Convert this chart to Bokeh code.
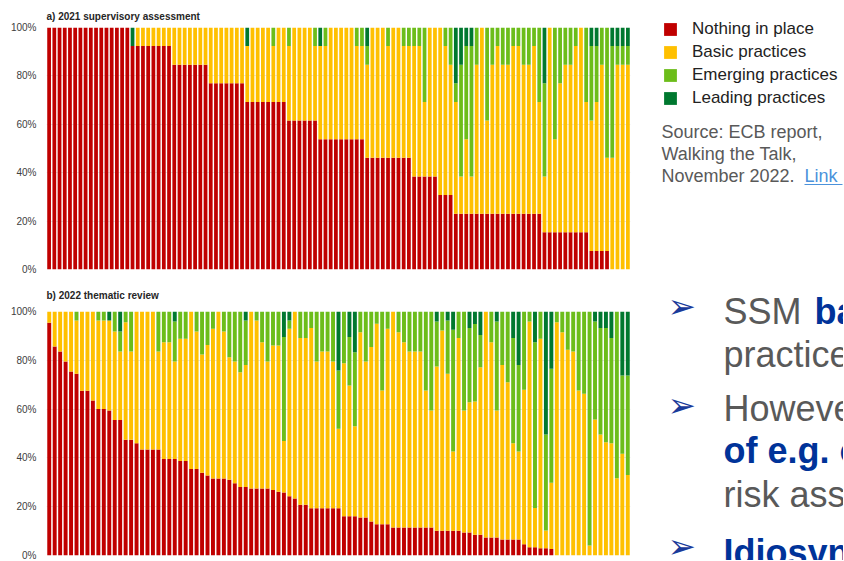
from bokeh.plotting import figure
from bokeh.layouts import row, column
from bokeh.models import Range1d, FixedTicker, Legend, LegendItem, ColumnDataSource
from bokeh.embed import file_html
from bokeh.resources import INLINE
from bokeh.core.properties import value

FONT = "Liberation Sans"

categories = ["Nothing in place", "Basic practices", "Emerging practices", "Leading practices"]
colors = ["#C00000", "#FFC000", "#6CBD1A", "#00782F"]
y_ticks = [0, 20, 40, 60, 80, 100]
y_tick_labels = ["0%", "20%", "40%", "60%", "80%", "100%"]

# a) 2021 supervisory assessment: number of the 13 expectations per bank in each category
expectations_2021 = 13
a_nothing = [
    13, 13, 13, 13, 13, 13, 13, 13, 13, 13,
    13, 13, 13, 13, 13, 13, 12, 12, 12, 12,
    12, 12, 12, 12, 11, 11, 11, 11, 11, 11,
    11, 10, 10, 10, 10, 10, 10, 10, 9, 9,
    9, 9, 9, 9, 9, 9, 8, 8, 8, 8,
    8, 8, 7, 7, 7, 7, 7, 7, 7, 7,
    7, 6, 6, 6, 6, 6, 6, 6, 6, 6,
    5, 5, 5, 5, 5, 4, 4, 4, 3, 3,
    3, 3, 3, 3, 3, 3, 3, 3, 3, 3,
    3, 3, 3, 3, 3, 2, 2, 2, 2, 2,
    2, 2, 2, 2, 1, 1, 1, 1, 0, 0,
    0, 0]
a_basic = [
    0, 0, 0, 0, 0, 0, 0, 0, 0, 0,
    0, 0, 0, 0, 0, 0, 0, 1, 1, 1,
    1, 1, 1, 1, 2, 2, 2, 2, 2, 2,
    2, 3, 3, 3, 3, 3, 3, 3, 3, 4,
    4, 4, 4, 3, 4, 4, 4, 5, 5, 5,
    5, 4, 5, 5, 6, 6, 6, 6, 6, 5,
    5, 5, 7, 7, 7, 6, 7, 7, 6, 6,
    7, 7, 4, 8, 8, 9, 8, 7, 6, 2,
    4, 2, 8, 10, 5, 8, 9, 8, 8, 9,
    9, 8, 8, 9, 6, 3, 11, 5, 8, 9,
    9, 10, 11, 7, 7, 8, 10, 5, 6, 11,
    11, 11]
a_emerging = [
    0, 0, 0, 0, 0, 0, 0, 0, 0, 0,
    0, 0, 0, 0, 0, 0, 0, 0, 0, 0,
    0, 0, 0, 0, 0, 0, 0, 0, 0, 0,
    0, 0, 0, 0, 0, 0, 0, 0, 0, 0,
    0, 0, 0, 1, 0, 0, 1, 0, 0, 0,
    0, 1, 0, 1, 0, 0, 0, 0, 0, 1,
    1, 1, 0, 0, 0, 1, 0, 0, 1, 1,
    1, 1, 4, 0, 0, 0, 1, 2, 1, 6,
    5, 7, 2, 0, 5, 2, 1, 2, 2, 1,
    1, 2, 2, 1, 4, 5, 0, 6, 3, 2,
    2, 1, 0, 4, 4, 3, 2, 7, 6, 1,
    1, 1]
a_leading = [
    0, 0, 0, 0, 0, 0, 0, 0, 0, 0,
    0, 0, 0, 0, 0, 0, 1, 0, 0, 0,
    0, 0, 0, 0, 0, 0, 0, 0, 0, 0,
    0, 0, 0, 0, 0, 0, 0, 0, 1, 0,
    0, 0, 0, 0, 0, 0, 0, 0, 0, 0,
    0, 0, 1, 0, 0, 0, 0, 0, 0, 0,
    0, 1, 0, 0, 0, 0, 0, 0, 0, 0,
    0, 0, 0, 0, 0, 0, 0, 0, 3, 2,
    1, 1, 0, 0, 0, 0, 0, 0, 0, 0,
    0, 0, 0, 0, 0, 3, 0, 0, 0, 0,
    0, 0, 0, 0, 1, 1, 0, 0, 1, 1,
    1, 1]

# b) 2022 thematic review: share (%) of assessed elements per bank in each category
b_nothing = [
    95.4, 85.7, 83.6, 79.5, 75.4, 74.5, 67.5, 67.5, 63.5, 60.0,
    60.0, 59.4, 55.5, 55.5, 47.4, 47.4, 46.0, 43.4, 43.4, 43.4,
    43.4, 39.5, 39.5, 39.5, 38.7, 38.7, 35.5, 35.5, 33.9, 32.8,
    31.6, 31.6, 31.6, 31.0, 29.6, 28.1, 28.1, 27.5, 27.5, 27.5,
    27.5, 26.8, 26.1, 25.8, 24.3, 23.4, 20.8, 20.8, 19.4, 19.4,
    19.4, 19.4, 19.4, 19.4, 16.1, 16.1, 16.1, 15.6, 15.6, 13.9,
    12.8, 12.8, 12.8, 11.5, 11.5, 11.5, 11.5, 11.5, 11.5, 11.5,
    11.5, 10.1, 10.1, 10.1, 10.1, 10.1, 9.4, 9.4, 8.5, 8.5,
    7.4, 7.4, 7.4, 6.6, 6.6, 6.6, 6.6, 4.6, 3.4, 3.4,
    3.0, 3.0, 2.7, 0, 0, 0, 0, 0, 0, 0,
    0, 0, 0, 0, 0, 0, 0]
b_basic = [
    4.6, 14.3, 16.4, 20.5, 24.6, 21.8, 32.5, 32.5, 36.5, 36.3,
    36.3, 36.9, 36.3, 28.1, 48.2, 36.2, 54.0, 56.6, 56.6, 56.6,
    40.2, 47.9, 47.9, 40.0, 50.1, 50.1, 64.5, 56.3, 48.5, 53.5,
    61.3, 68.4, 60.2, 50.3, 49.9, 47.0, 50.0, 72.5, 68.8, 59.9,
    52.0, 59.3, 60.0, 21.1, 68.6, 76.6, 68.3, 68.3, 73.8, 60.1,
    64.2, 64.2, 60.1, 32.5, 62.7, 53.6, 36.9, 75.9, 63.9, 71.5,
    82.2, 54.8, 80.1, 88.5, 80.0, 75.9, 72.1, 72.1, 72.1, 56.1,
    47.9, 67.4, 82.1, 64.4, 32.5, 79.0, 50.0, 53.4, 54.6, 68.7,
    92.6, 80.0, 52.0, 71.5, 64.4, 39.4, 36.0, 63.3, 92.5, 16.1,
    85.8, 7.2, 27.1, 95.6, 91.5, 84.3, 83.6, 67.6, 66.3, 4.1,
    55.7, 49.6, 46.4, 46.0, 31.7, 41.7, 33.0]
b_emerging = [
    0, 0, 0, 0, 0, 3.7, 0, 0, 0, 3.7,
    3.7, 0, 8.2, 8.2, 4.4, 16.4, 0, 0, 0, 0,
    16.4, 12.6, 12.6, 16.4, 11.2, 11.2, 0, 8.2, 17.6, 13.7,
    7.1, 0, 8.2, 18.7, 20.5, 24.9, 18.2, 0, 3.7, 12.6,
    20.5, 13.9, 13.9, 42.6, 3.4, 0, 10.9, 10.9, 6.8, 20.5,
    16.4, 16.4, 20.5, 23.9, 21.2, 19.8, 30.3, 8.5, 20.5, 14.6,
    5.0, 32.4, 7.1, 0, 8.5, 12.6, 16.4, 16.4, 16.4, 32.4,
    40.6, 18.4, 7.8, 21.8, 49.9, 10.9, 40.6, 30.4, 31.8, 13.2,
    0, 12.6, 36.5, 21.9, 29.0, 43.1, 35.5, 32.1, 4.1, 67.9,
    11.2, 39.4, 46.7, 4.4, 8.5, 15.7, 16.4, 32.4, 33.7, 95.9,
    40.2, 43.6, 46.8, 43.1, 68.3, 32.1, 40.8]
b_leading = [
    0, 0, 0, 0, 0, 0, 0, 0, 0, 0,
    0, 3.7, 0, 8.2, 0, 0, 0, 0, 0, 0,
    0, 0, 0, 4.1, 0, 0, 0, 0, 0, 0,
    0, 0, 0, 0, 0, 0, 3.7, 0, 0, 0,
    0, 0, 0, 10.5, 3.7, 0, 0, 0, 0, 0,
    0, 0, 0, 24.2, 0, 10.5, 16.7, 0, 0, 0,
    0, 0, 0, 0, 0, 0, 0, 0, 0, 0,
    0, 4.1, 0, 3.7, 7.5, 0, 0, 6.8, 5.1, 9.6,
    0, 0, 4.1, 0, 0, 10.9, 21.9, 0, 0, 12.6,
    0, 50.4, 23.5, 0, 0, 0, 0, 0, 0, 0,
    4.1, 6.8, 6.8, 10.9, 0, 26.2, 26.2]

source_lines = ["Source: ECB report,", "Walking the Talk,", "November 2022."]
link_text = "Link"

W_LEFT, W_RIGHT = 640, 203
H_TOP, H_BOTTOM = 275, 285


def make_chart(title, nothing, basic, emerging, leading, height, top, bottom, standoff):
    n = len(nothing)
    src = ColumnDataSource(dict(x=list(range(n)), nothing=nothing, basic=basic,
                                emerging=emerging, leading=leading))
    p = figure(width=W_LEFT, height=height, x_range=Range1d(-0.5, n - 0.5), y_range=Range1d(0, 100),
               x_axis_location=None, output_backend="svg", toolbar_location=None,
               min_border_left=46, min_border_right=10, min_border_top=top, min_border_bottom=bottom,
               frame_align=False)
    p.vbar_stack(["nothing", "basic", "emerging", "leading"], x="x", width=0.72,
                 fill_color=colors, line_color=None, source=src)
    p.yaxis.ticker = FixedTicker(ticks=y_ticks)
    p.yaxis.major_label_overrides = {t: l for t, l in zip(y_ticks, y_tick_labels)}
    p.yaxis.major_label_text_font = FONT
    p.yaxis.major_label_text_font_size = "10px"
    p.yaxis.major_label_text_color = "#404040"
    p.yaxis.axis_line_color = None
    p.yaxis.major_tick_line_color = None
    p.yaxis.minor_tick_line_color = None
    p.yaxis.major_tick_out = 0
    p.yaxis.major_tick_in = 0
    p.yaxis.minor_tick_out = 0
    p.yaxis.major_label_standoff = 10
    p.xgrid.visible = False
    p.ygrid.grid_line_color = "#E6E6E6"
    p.outline_line_color = None
    p.title.text = title
    p.title.text_font = FONT
    p.title.text_font_size = "10px"
    p.title.text_font_style = "bold"
    p.title.text_color = "#262626"
    p.title.align = "left"
    p.title.standoff = standoff
    return p


def pct(vals):
    return [v * 100.0 / expectations_2021 for v in vals]


top = make_chart("a) 2021 supervisory assessment", pct(a_nothing), pct(a_basic), pct(a_emerging),
                 pct(a_leading), H_TOP, 27, 6, 11)
bottom = make_chart("b) 2022 thematic review", b_nothing, b_basic, b_emerging, b_leading,
                    H_BOTTOM, 36, 5, 22)

# legend + source panel (coordinates in page pixels)
lp = figure(width=W_RIGHT, height=H_TOP, x_range=Range1d(643, 640 + W_RIGHT), y_range=Range1d(H_TOP, 0),
            x_axis_location=None, y_axis_location=None, output_backend="svg",
            toolbar_location=None, min_border=0, min_border_left=3, frame_align=False)
lp.grid.visible = False
lp.outline_line_color = None
nan = float("nan")
swatches = [lp.rect(x=[nan], y=[nan], width=1, height=1, fill_color=c, line_color=None) for c in colors]
legend = Legend(items=[LegendItem(label=c, renderers=[r]) for c, r in zip(categories, swatches)],
                location="top_left", margin=19, padding=0, spacing=3,
                glyph_width=16, glyph_height=16, label_height=16, label_standoff=14,
                label_text_font=FONT, label_text_font_size="17px", label_text_color="#222222",
                border_line_alpha=0, background_fill_alpha=0)
lp.add_layout(legend)
lp.text(x=[661, 661, 661], y=[131.7, 153.3, 175], text=source_lines, text_baseline="middle",
        text_align="left", text_font=value(FONT), text_font_size=value("18px"), text_color="#595959")
lp.text(x=[804], y=[175], text=[link_text], text_baseline="middle", text_align="left",
        text_font=value(FONT), text_font_size=value("18px"), text_color="#4B92DB")
lp.segment(x0=[804], y0=[184], x1=[842], y1=[184], line_color="#4B92DB", line_width=1)

# bullet panel
bp = figure(width=W_RIGHT, height=H_BOTTOM, x_range=Range1d(640, 640 + W_RIGHT),
            y_range=Range1d(H_TOP + H_BOTTOM, H_TOP),
            x_axis_location=None, y_axis_location=None, output_backend="svg",
            toolbar_location=None, min_border=0, frame_align=False)
bp.grid.visible = False
bp.outline_line_color = None
bp.text(x=[667, 667, 667], y=[305, 404, 545.5], text=["\u27a2", "\u27a2", "\u27a2"],
        text_baseline="middle", text_align="left", text_font=value("DejaVu Sans"),
        text_font_size=value("34px"), text_color="#1A3A9A")
grey_runs = ["SSM", "practices", "However,", "risk assessment"]
bp.text(x=[723, 723, 723, 723], y=[311, 354, 408, 494], text=grey_runs,
        text_baseline="alphabetic", text_align="left", text_font=value(FONT),
        text_font_size=value("36px"), text_color="#595959")
blue_runs = ["banks", "of e.g. climate", "Idiosyncratic"]
bp.text(x=[814, 723, 723], y=[311, 450, 552], text=blue_runs,
        text_baseline="alphabetic", text_align="left", text_font=value(FONT),
        text_font_size=value("36px"), text_font_style="bold", text_color="#003399")

layout = column(row(top, lp), row(bottom, bp))
open("out.html", "w").write(file_html(layout, INLINE))
